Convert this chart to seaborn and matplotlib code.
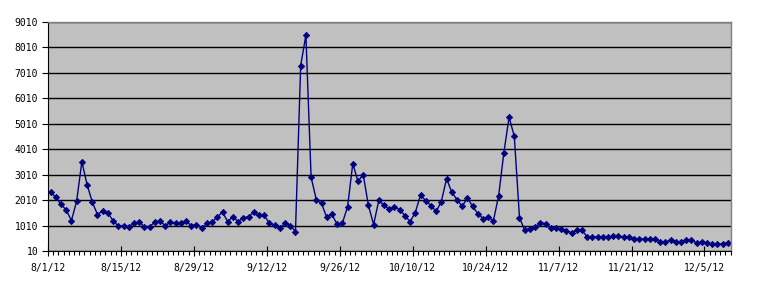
import numpy as np
import pandas as pd
import matplotlib
matplotlib.use("Agg")
import matplotlib.pyplot as plt
import matplotlib.dates as mdates
from matplotlib.ticker import FixedLocator, FuncFormatter
import seaborn as sns

start_date = "2012-08-01"
values = [
    2310, 2130, 1845, 1620, 1205, 1975, 3520, 2620, 1935, 1440,
    1600, 1490, 1205, 990, 990, 955, 1110, 1140, 970, 970,
    1140, 1175, 1010, 1140, 1100, 1100, 1175, 1010, 1050, 915,
    1095, 1140, 1360, 1530, 1165, 1360, 1165, 1320, 1360, 1530,
    1410, 1410, 1100, 1020, 915, 1100, 1010, 775, 7300, 8490,
    2910, 2030, 1880, 1330, 1450, 1055, 1105, 1750, 3445, 2745,
    3015, 1800, 1050, 2005, 1800, 1645, 1740, 1640, 1400, 1165,
    1520, 2210, 1990, 1795, 1565, 1955, 2855, 2317, 2030, 1760,
    2100, 1760, 1480, 1285, 1335, 1205, 2190, 3880, 5265, 4520,
    1320, 825, 890, 940, 1125, 1090, 900, 900, 865, 800,
    735, 825, 825, 560, 560, 560, 560, 560, 600, 600,
    560, 560, 480, 480, 480, 480, 480, 365, 365, 445,
    365, 365, 445, 445, 325, 380, 325, 285, 285, 285,
    340,
]
y_ticks = [10, 1010, 2010, 3010, 4010, 5010, 6010, 7010, 8010, 9010]

dates = pd.date_range(start_date, periods=len(values), freq="D")
df = pd.DataFrame({"date": dates + pd.Timedelta(hours=12), "value": values})

plt.rcParams["font.family"] = ["DejaVu Sans Mono"]
plt.rcParams["font.size"] = 7

fig = plt.figure(figsize=(7.68, 2.89), dpi=100)
ax = fig.add_axes([48 / 768, 1 - 251 / 289, (730.5 - 48) / 768, (251 - 22) / 289])
ax.set_facecolor("#C0C0C0")

sns.lineplot(data=df, x="date", y="value", ax=ax, color="#000080",
             linewidth=1.0, marker="D", markersize=3.2, markeredgewidth=0.6,
             markeredgecolor="#000080", markerfacecolor="#000080")

x0 = mdates.date2num(pd.Timestamp(start_date))
ax.set_xlim(x0, x0 + len(values))
ax.set_ylim(y_ticks[0], y_ticks[-1])
ax.set_yticks(y_ticks)
ax.set_yticklabels([str(t) for t in y_ticks])

major = [x0 + 14 * i for i in range(len(values) // 14 + 1)]
minor = [x0 + i for i in range(len(values) + 1)]
ax.xaxis.set_major_locator(FixedLocator(major))
ax.xaxis.set_minor_locator(FixedLocator(minor))

def fmt(v, pos):
    d = mdates.num2date(v)
    return f"{d.month}/{d.day}/{d.strftime('%y')}"

ax.xaxis.set_major_formatter(FuncFormatter(fmt))

ax.set_axisbelow(True)
ax.yaxis.grid(True, color="black", linewidth=1.0)
ax.xaxis.grid(False)

ax.tick_params(axis="x", which="major", direction="inout", length=7, width=0.8, pad=5, colors="black")
ax.tick_params(axis="x", which="minor", direction="out", length=3, width=0.8)
ax.tick_params(axis="y", which="major", direction="out", length=4, width=0.8, pad=3)

for s in ["left", "bottom"]:
    ax.spines[s].set_color("black")
    ax.spines[s].set_linewidth(0.8)
for s in ["top", "right"]:
    ax.spines[s].set_color("#808080")
    ax.spines[s].set_linewidth(1.0)

ax.set_xlabel("")
ax.set_ylabel("")

fig.savefig("out.png", dpi=100, facecolor="white")
